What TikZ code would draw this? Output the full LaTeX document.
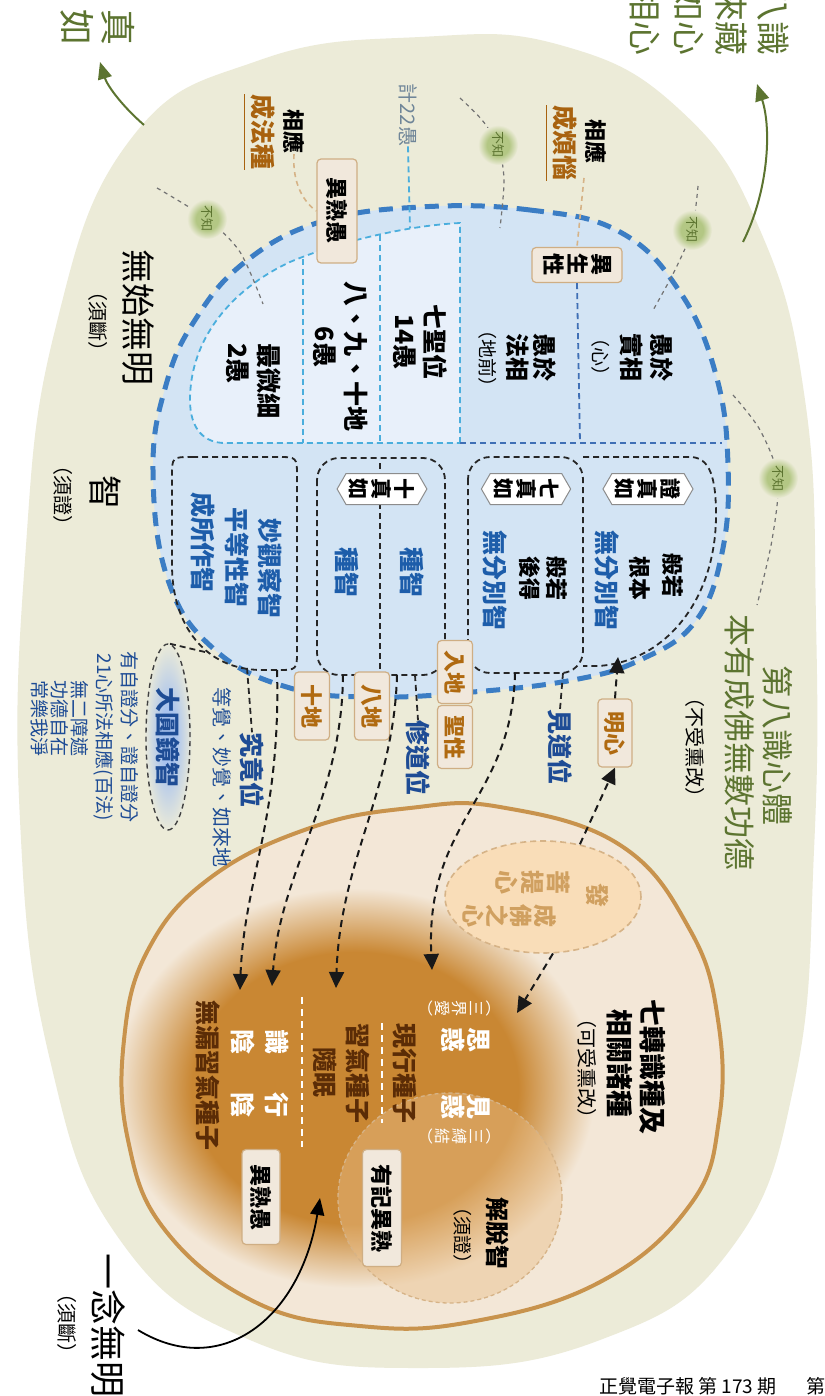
\documentclass[tikz,border=0pt]{standalone}
\usepackage{fontspec}
\setmainfont{Noto Sans CJK TC}
\usetikzlibrary{arrows.meta,shapes.symbols,shapes.geometric}
\definecolor{bgB}{HTML}{ECEBD8}
\definecolor{blueF}{HTML}{D3E4F4}
\definecolor{lightB}{HTML}{E8F0FA}
\definecolor{dashB}{HTML}{3B7DC4}
\definecolor{cyanC}{HTML}{4AAEDD}
\definecolor{dblue}{HTML}{3F6FB5}
\definecolor{greenT}{HTML}{5C7430}
\definecolor{brownT}{HTML}{A8620F}
\definecolor{tanB}{HTML}{CFAE84}
\definecolor{boxF}{HTML}{F1E8DC}
\definecolor{ringC}{HTML}{C8934D}
\definecolor{ringF}{HTML}{F3E7D7}
\definecolor{glowB}{HTML}{C98733}
\definecolor{dbrown}{HTML}{5B2C06}
\definecolor{blueT}{HTML}{1D5DAA}
\definecolor{navyT}{HTML}{1E4C95}
\definecolor{grayT}{HTML}{6F8598}
\definecolor{knowG}{HTML}{B3C784}
\definecolor{glowBl}{HTML}{A9C3EE}
\definecolor{pusaF}{HTML}{F9DDB8}
\definecolor{pusaT}{HTML}{D0A060}
\definecolor{tanD}{HTML}{D6B387}
\definecolor{jtF}{HTML}{E9BE88}
\definecolor{boxT}{HTML}{B06A10}
\pgfdeclareradialshading{brglow}{\pgfpoint{0bp}{0bp}}{color(0bp)=(glowB); color(17bp)=(glowB); color(25bp)=(ringF); color(50bp)=(ringF)}
\pgfdeclareradialshading{gknow}{\pgfpoint{0bp}{0bp}}{color(0bp)=(knowG); color(14bp)=(knowG); color(25bp)=(bgB); color(50bp)=(bgB)}
\pgfdeclareradialshading{blglow}{\pgfpoint{0bp}{0bp}}{color(0bp)=(glowBl); color(8bp)=(glowBl); color(25bp)=(bgB); color(50bp)=(bgB)}
\newcommand{\fsz}[2]{\fontsize{#1}{#2}\selectfont}
\begin{document}
\begin{tikzpicture}[x=1pt,y=-1pt,
  rt/.style={inner sep=0pt, rotate=-90},
  bk/.style={rt, text=black, font=\bfseries\fsz{24}{26}},
  bl/.style={rt, text=blueT, font=\bfseries\fsz{25}{27}},
  nv/.style={rt, text=navyT, font=\bfseries\fsz{25}{27}},
  sm/.style={rt, font=\fsz{19}{21}},
  cal/.style={rt, font=\fsz{34}{40}},
  tbox/.style={rt, draw=tanB, fill=boxF, line width=1.2pt, rounded corners=4pt, font=\bfseries\fsz{22}{24}},
  hextag/.style={rt, signal, signal to=north and south, signal pointer angle=120, draw=black!45, fill=white, line width=1pt, align=center, inner xsep=5pt, inner ysep=3pt, font=\bfseries\fsz{21}{23}},
  knowc/.style={rt, circle, minimum size=40pt, shade, shading=gknow, text=greenT, font=\fsz{13}{14}},
  bdash/.style={draw=black!85, line width=1.8pt, dash pattern=on 6pt off 4pt},
  arr/.style={draw=black!90, line width=2pt, dash pattern=on 7pt off 5pt, -{Triangle[width=15pt,length=16pt]}},
  gD/.style={draw=black!55, line width=1.2pt, dash pattern=on 4pt off 4pt},
  tD/.style={draw=tanD, line width=1.6pt, dash pattern=on 5pt off 4pt},
  cD/.style={draw=cyanC, line width=1.8pt, dash pattern=on 6pt off 4pt},
  dD/.style={draw=dblue, line width=1.8pt, dash pattern=on 6pt off 4pt},
  wD/.style={draw=white, line width=2pt, dash pattern=on 7pt off 5pt},
  garr/.style={draw=greenT, line width=2pt, -{Triangle[width=14pt,length=17pt]}},
]
\useasboundingbox (0,0) rectangle (824,1396);
\fill[white] (0,0) rectangle (824,1396);
\clip (0,0) rectangle (824,1396);

% ---------- beige blob ----------
\fill[bgB] plot[smooth cycle, tension=0.75] coordinates {(420,37) (560,45) (680,110) (760,230) (805,400) (816,620) (814,850) (795,1080) (730,1250) (600,1340) (420,1368) (250,1340) (120,1240) (50,1060) (20,820) (25,560) (55,330) (130,140) (260,60)};

% ---------- green arrows and calligraphy ----------
\node[cal, text=greenT, align=center, font=\fsz{36}{41}] (zhenru) at (98,28) {真\\如};
\coordinate (zrS) at (144,125);
\coordinate (zrE) at (100,62);
\draw[garr] (zrS) .. controls (121,105) and (107,85) .. (zrE);
\coordinate (trS) at (743,242);
\coordinate (trE) at (757,84);
\draw[garr] (trS) .. controls (768,192) and (772,130) .. (trE);
\node[cal, text=greenT, anchor=east] (tr1) at (773,56) {八識};
\node[cal, text=greenT, anchor=east] (tr2) at (731,56) {來藏};
\node[cal, text=greenT, anchor=east] (tr3) at (689,56) {如心};
\node[cal, text=greenT, anchor=east] (tr4) at (645,56) {相心};

\node[cal] (wswm) at (138,318) {無始無明};
\node[sm, font=\fsz{20}{22}] (xd1) at (98,322) {（須斷）};
\node[cal] (zhi) at (105,492) {智};
\node[sm, font=\fsz{20}{22}] (xz1) at (63,495) {（須證）};

\node[cal, text=greenT, font=\fsz{32}{36}] (d8) at (778,745) {第八識心體};
\node[cal, text=greenT, font=\fsz{32}{36}] (byc) at (740,742) {本有成佛無數功德};
\node[sm, font=\fsz{20}{22}] (bsx) at (695,747) {（不受熏改）};

% ---------- blue region ----------
\path[fill=blueF, draw=dashB, line width=5pt, dash pattern=on 14pt off 9pt] plot[smooth cycle, tension=0.7] coordinates {(420,207) (530,210) (620,232) (680,292) (716,375) (728,465) (722,553) (695,622) (640,660) (573,680) (473,692) (373,697) (290,688) (215,650) (168,580) (153,470) (166,385) (195,320) (245,262) (320,222)};

\path[fill=lightB, cD] (460,443) -- (460,223) .. controls (400,226) and (330,245) .. (290,262) .. controls (230,290) and (190,340) .. (190,400) .. controls (190,430) and (205,443) .. (225,443) -- cycle;
\draw[cD] (303,259) -- (303,443);
\draw[cD] (380,235) -- (380,443);
\draw[dD] (460,443) -- (722,443);

% top labels
\node[rt, text=black, font=\bfseries\fsz{22}{24}] (xy1) at (294,132) {相應};
\node[rt, text=brownT, font=\bfseries\fsz{25}{27}] (cfz) at (263,132) {成法種};
\draw[brownT, line width=1.6pt] ([xshift=-6pt]cfz.south west) -- ([xshift=-6pt]cfz.south east);
\node[rt, text=black, font=\bfseries\fsz{22}{24}] (xy2) at (596,142) {相應};
\node[rt, text=brownT, font=\bfseries\fsz{25}{27}] (cfn) at (565,143) {成煩惱};
\draw[brownT, line width=1.6pt] ([xshift=-6pt]cfn.south west) -- ([xshift=-6pt]cfn.south east);
\node[rt, text=grayT, font=\fsz{20}{22}] (j22) at (408,115) {計22愚};
\coordinate (lrtop) at (410,228);
\draw[cD] (j22.east) -- (lrtop);

\node[tbox, minimum width=104pt, minimum height=40pt] (ysy) at (337,211) {異熟愚};
\node[tbox, align=center, minimum width=35pt, minimum height=90pt] (ysx) at (577,265) {異\\生\\性};
\coordinate (ysxb) at (580,443);
\draw[dD] (ysx.east) -- (ysxb);
\draw[tD] (xy1.east) .. controls (292,185) and (305,203) .. (ysy.south);
\coordinate (t2) at (584,178);
\draw[tD] (t2) -- (ysx.west);

% "bu zhi" lines and circles
\draw[gD] plot[smooth] coordinates {(157,188) (207,219) (240,252) (263,304)};
\draw[gD] plot[smooth] coordinates {(460,98) (482,120) (498,145) (504,180) (500,228)};
\draw[gD] plot[smooth] coordinates {(698,186) (692,230) (675,270) (652,312)};
\draw[gD] plot[smooth] coordinates {(733,395) (760,430) (778,478) (772,540) (757,605)};
\node[knowc] (bz1) at (207,219) {不知};
\node[knowc] (bz2) at (498,145) {不知};
\node[knowc] (bz3) at (692,230) {不知};
\node[knowc] (bz4) at (778,478) {不知};

% upper cells text
\node[bk, anchor=west, font=\bfseries\fsz{25}{27}] (zwx) at (269,343) {最微細};
\node[bk, anchor=west, font=\bfseries\fsz{25}{27}] (y2) at (238,343) {2愚};
\node[bk, font=\bfseries\fsz{25}{27}] (bjs) at (356,357) {八、九、十地};
\node[bk, font=\bfseries\fsz{25}{27}] (y6) at (325,347) {6愚};
\node[bk, font=\bfseries\fsz{25}{27}] (qsw) at (435,342) {七聖位};
\node[bk, font=\bfseries\fsz{25}{27}] (y14) at (405,342) {14愚};
\node[bk] (yy1) at (545,357) {愚於};
\node[bk] (fx) at (518,357) {法相};
\node[sm] (dq) at (488,358) {（地前）};
\node[bk] (yy2) at (662,357) {愚於};
\node[bk] (sx) at (632,357) {實相};
\node[sm] (xin) at (601,357) {（心）};

% ---------- lower dashed boxes ----------
\draw[bdash] (192,457) -- (277,457) .. controls (297,457) .. (297,477) -- (297,650) .. controls (297,670) .. (277,670) -- (262,670) .. controls (205,670) and (172,625) .. (172,565) -- (172,477) .. controls (172,457) .. (192,457) -- cycle;
\draw[bdash, rounded corners=22pt] (317,458) rectangle (445,675);
\draw[bdash] (380,463) -- (380,672);
\draw[bdash, rounded corners=22pt] (468,457) rectangle (583,673);
\draw[bdash] (583,457) -- (690,457) .. controls (710,457) and (716,478) .. (716,515) .. controls (716,600) and (665,662) .. (598,666) -- (583,666);

\node[hextag] (tg1) at (648,489) {證\\真\\如};
\node[hextag] (tg2) at (526,489) {七\\真\\如};
\node[hextag] (tg3) at (382,489) {十\\真\\如};

\node[bk, font=\bfseries\fsz{22}{24}] (br1) at (673,575) {般若};
\node[bk, font=\bfseries\fsz{22}{24}] (gb) at (640,578) {根本};
\node[bl] (wf1) at (607,580) {無分別智};
\node[bk, font=\bfseries\fsz{22}{24}] (br2) at (557,578) {般若};
\node[bk, font=\bfseries\fsz{22}{24}] (hd) at (530,578) {後得};
\node[bl] (wf2) at (495,580) {無分別智};
\node[bl] (zz1) at (347,572) {種智};
\node[bl] (zz2) at (412,572) {種智};
\node[bl] (mgc) at (270,568) {妙觀察智};
\node[bl] (pdx) at (237,557) {平等性智};
\node[bl] (csz) at (203,542) {成所作智};

% ---------- tan circle ----------
\path[fill=ringF] plot[smooth cycle, tension=0.7] coordinates {(500,807) (620,845) (690,930) (718,1020) (719,1120) (690,1205) (600,1282) (470,1322) (360,1326) (255,1302) (165,1230) (128,1140) (124,1040) (148,950) (210,878) (310,828) (410,808)};
\begin{scope}
\clip plot[smooth cycle, tension=0.7] coordinates {(500,807) (620,845) (690,930) (718,1020) (719,1120) (690,1205) (600,1282) (470,1322) (360,1326) (255,1302) (165,1230) (128,1140) (124,1040) (148,950) (210,878) (310,828) (410,808)};
\shade[shading=brglow] (355,1088) ellipse [x radius=240pt, y radius=200pt];
\end{scope}
\path[fill=jtF, fill opacity=0.45, draw=tanD, line width=1.3pt, dash pattern=on 4pt off 3pt] (450,1198) ellipse [x radius=112pt, y radius=105pt];
\draw[ringC, line width=4pt] plot[smooth cycle, tension=0.7] coordinates {(500,807) (620,845) (690,930) (718,1020) (719,1120) (690,1205) (600,1282) (470,1322) (360,1326) (255,1302) (165,1230) (128,1140) (124,1040) (148,950) (210,878) (310,828) (410,808)};

\node[ellipse, minimum width=196pt, minimum height=112pt, fill=pusaF, draw=tanD, line width=1.6pt, dash pattern=on 6pt off 4pt] (ptx) at (543,897) {};
\node[rt, text=pusaT, font=\bfseries\fsz{24}{26}] (fa) at (598,895) {發};
\node[rt, text=pusaT, align=center, font=\bfseries\fsz{24}{26}] (ptxin) at (533,882) {菩\\提\\心};
\node[rt, text=pusaT, align=center, font=\bfseries\fsz{23}{24}] (cfzx) at (510,916) {成\\佛\\之\\心};

\node[rt, font=\bfseries\fsz{27}{29}] (qzs) at (653,1067) {七轉識種及};
\node[rt, font=\bfseries\fsz{27}{29}] (xgz) at (620,1063) {相關諸種};
\node[sm, font=\fsz{20}{22}] (ksx) at (587,1068) {（可受熏改）};

% brown region text
\node[rt, text=white, align=center, font=\fsz{16}{17}] (sja) at (455,1008) {︵\\三\\界\\愛\\︶};
\node[rt, text=white, align=center, font=\bfseries\fsz{25}{26}] (sh) at (466,1040) {思\\惑};
\node[rt, text=white, align=center, font=\bfseries\fsz{25}{26}] (jh) at (466,1107) {見\\惑};
\node[rt, text=white, align=center, font=\fsz{16}{17}] (sfj) at (455,1136) {︵\\三\\縛\\結\\︶};
\node[rt, text=dbrown, font=\bfseries\fsz{25}{27}] (xxz) at (405,1073) {現行種子};
\draw[wD] (382,1023) -- (382,1123);
\node[rt, text=dbrown, font=\bfseries\fsz{25}{27}] (xqz) at (358,1073) {習氣種子};
\node[rt, text=dbrown, font=\bfseries\fsz{25}{27}] (sm1) at (325,1072) {隨眠};
\draw[wD] (302,997) -- (302,1147);
\node[rt, text=white, align=center, font=\bfseries\fsz{25}{34}] (sy) at (260,1042) {識\\陰};
\node[rt, text=white, align=center, font=\bfseries\fsz{25}{34}] (xy) at (260,1105) {行\\陰};
\node[rt, text=dbrown, font=\bfseries\fsz{25}{27}] (wlx) at (208,1075) {無漏習氣種子};

\node[tbox, minimum width=95pt, minimum height=38pt] (ysy2) at (261,1197) {異熟愚};
\node[tbox, minimum width=117pt, minimum height=39pt] (yjy) at (382,1208) {有記異熟};
\node[bk] (jtz) at (498,1233) {解脫智};
\node[sm] (xz2) at (463,1235) {（須證）};

% ---------- labels below blue region ----------
\node[tbox, text=boxT, minimum width=63pt, minimum height=35pt] (rd) at (455,672) {入地};
\node[tbox, text=boxT, minimum width=63pt, minimum height=35pt] (sx2) at (455,737) {聖性};
\node[tbox, text=boxT, minimum width=68pt, minimum height=35pt] (sd) at (312,706) {十地};
\node[tbox, text=boxT, minimum width=68pt, minimum height=35pt] (bd) at (372,706) {八地};
\node[tbox, text=boxT, minimum width=68pt, minimum height=34pt] (mx) at (615,733) {明心};

\node[nv] (jjw) at (252,770) {究竟位};
\node[nv] (xdw) at (418,758) {修道位};
\node[nv] (jdw) at (560,747) {見道位};
\node[rt, text=navyT, font=\fsz{20}{22}] (djm) at (222,777) {等覺、妙覺、如來地};

\shade[shading=blglow] (168,737) ellipse [x radius=24pt, y radius=95pt];
\node[ellipse, minimum width=186pt, minimum height=44pt, rotate=-90, draw=black!75, line width=1.4pt, dash pattern=on 5pt off 4pt] (dyj) at (168,737) {};
\node[nv] (dyjt) at (168,737) {大圓鏡智};
\node[rt, text=navyT, font=\fsz{19}{21}] (l1) at (130,737) {有自證分、證自證分};
\node[rt, text=navyT, font=\fsz{19}{21}] (l2) at (104,737) {21心所法相應(百法)};
\node[rt, text=navyT, font=\fsz{19}{21}] (l3) at (80,718) {無二障遮};
\node[rt, text=navyT, font=\fsz{19}{21}] (l4) at (60,718) {功德自在};
\node[rt, text=navyT, font=\fsz{19}{21}] (l5) at (40,718) {常樂我淨};

% ---------- connectors ----------
\coordinate (bA1) at (247,668);
\coordinate (bA2) at (205,652);
\coordinate (bA3) at (277,670);
\coordinate (bB1) at (343,675);
\coordinate (bB2) at (397,675);
\coordinate (bB3) at (415,675);
\coordinate (bC1) at (515,673);
\coordinate (bC2) at (563,673);
\coordinate (bD) at (618,657);
\coordinate (e1) at (240,990);
\coordinate (e2) at (272,986);
\coordinate (e3) at (336,988);
\coordinate (e4) at (432,970);
\coordinate (e5) at (517,1013);
\draw[bdash] (bA1) -- (jjw.west);
\draw[bdash] (bA2) -- (dyj.west);
\draw[bdash] (bB3) -- (xdw.west);
\draw[bdash] (bC2) -- (jdw.west);
\draw[arr] (bA3) .. controls (281,820) and (244,880) .. (e1);
\draw[arr] (bB1) .. controls (342,800) and (280,870) .. (e2);
\draw[arr] (bB2) .. controls (394,790) and (340,860) .. (e3);
\draw[arr] (bC1) .. controls (512,800) and (425,820) .. (e4);
\draw[arr] (ptx.280) -- (e5);
\draw[arr] (ptx.55) -- (mx.east);
\draw[arr] (mx.west) -- (bD);

% ---------- bottom ----------
\node[cal, font=\fsz{36}{40}] (ynwm) at (108,1325) {一念無明};
\node[sm, font=\fsz{20}{22}] (xd2) at (67,1323) {（須斷）};
\coordinate (ynS) at (138,1330);
\coordinate (ynE) at (320,1198);
\draw[draw=black, line width=1.8pt, -{Triangle[width=14pt,length=17pt]}] (ynS) .. controls (220,1380) and (300,1320) .. (ynE);

\node[anchor=west, inner sep=0pt, font=\fsz{19}{21}] (foot) at (599,1386) {正覺電子報 第 173 期\hspace{30pt}第};
\end{tikzpicture}
\end{document}
